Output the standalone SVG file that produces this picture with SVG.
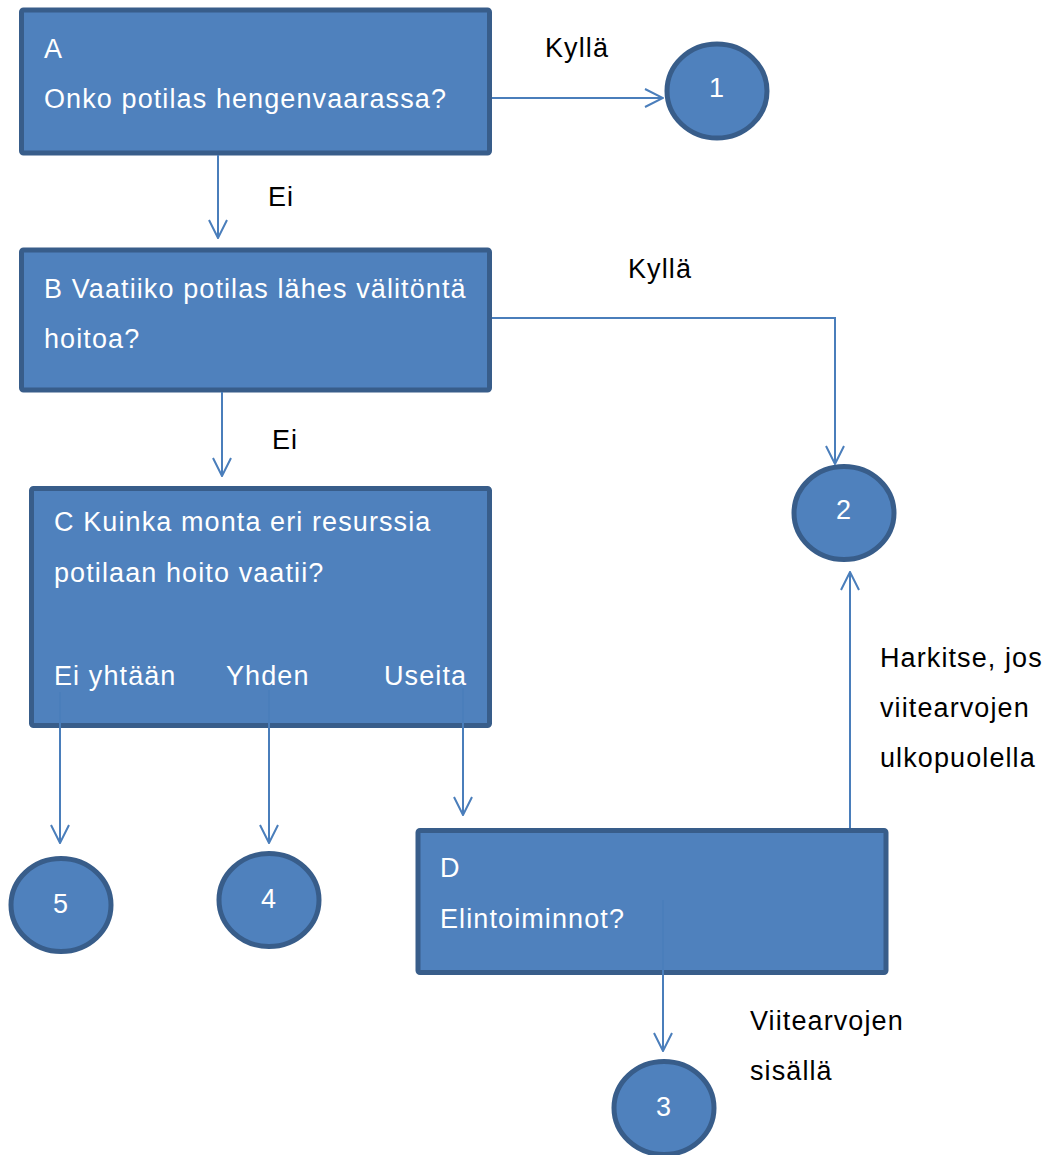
<svg xmlns="http://www.w3.org/2000/svg" width="1046" height="1155" viewBox="0 0 1046 1155">
<style>
.box{fill:#4F81BD;stroke:#385D8A;stroke-width:5;}
.wt{fill:#FFFFFF;font-family:"Liberation Sans",Arial,sans-serif;font-size:27px;letter-spacing:1.1px;}
.bt{fill:#000000;font-family:"Liberation Sans",Arial,sans-serif;font-size:27px;letter-spacing:1.1px;}
.con{fill:none;stroke:#4A7EBB;stroke-width:2;}
</style>
<defs>
<marker id="arr" viewBox="0 0 20 20" refX="19" refY="10" markerWidth="20" markerHeight="20" markerUnits="userSpaceOnUse" orient="auto">
<path d="M1,1 L19,10 L1,19" fill="none" stroke="#4A7EBB" stroke-width="2"/>
</marker>
</defs>
<rect width="1046" height="1155" fill="#FFFFFF"/>
<g id="nodeA">
<rect class="box" x="21.5" y="10" width="468" height="143" rx="2"/>
<text class="wt" x="44" y="58">A</text>
<text class="wt" x="44" y="108">Onko potilas hengenvaarassa?</text>
</g>
<g id="nodeB">
<rect class="box" x="21.5" y="250" width="468" height="140" rx="2"/>
<text class="wt" x="44" y="298">B Vaatiiko potilas lähes välitöntä</text>
<text class="wt" x="44" y="348">hoitoa?</text>
</g>
<g id="nodeC">
<rect class="box" x="31.5" y="488.5" width="458" height="237" rx="2"/>
<text class="wt" x="54" y="531">C Kuinka monta eri resurssia</text>
<text class="wt" x="54" y="582">potilaan hoito vaatii?</text>
<text class="wt" x="54" y="685">Ei yhtään</text>
<text class="wt" x="226" y="685">Yhden</text>
<text class="wt" x="384" y="685">Useita</text>
</g>
<g id="nodeD">
<rect class="box" x="418" y="830.5" width="468" height="142" rx="2"/>
<text class="wt" x="440" y="877">D</text>
<text class="wt" x="440" y="928">Elintoiminnot?</text>
</g>
<g id="node1">
<ellipse class="box" cx="717" cy="91" rx="50" ry="47"/>
<text class="wt" x="717" y="97" text-anchor="middle">1</text>
</g>
<g id="node2">
<ellipse class="box" cx="844" cy="513" rx="50" ry="46.5"/>
<text class="wt" x="844" y="519" text-anchor="middle">2</text>
</g>
<g id="node3">
<ellipse class="box" cx="664" cy="1108" rx="50" ry="46.5"/>
<text class="wt" x="664" y="1116" text-anchor="middle">3</text>
</g>
<g id="node4">
<ellipse class="box" cx="269" cy="900" rx="50" ry="46.5"/>
<text class="wt" x="269" y="908" text-anchor="middle">4</text>
</g>
<g id="node5">
<ellipse class="box" cx="61" cy="905" rx="50" ry="46.5"/>
<text class="wt" x="61" y="913" text-anchor="middle">5</text>
</g>
<g id="connectors">
<path class="con" d="M492,98 H663" marker-end="url(#arr)"/>
<path class="con" d="M218,155 V238" marker-end="url(#arr)"/>
<path class="con" d="M492,318 H835 V464" marker-end="url(#arr)"/>
<path class="con" d="M222,392 V476" marker-end="url(#arr)"/>
<path class="con" d="M60,692 V843" marker-end="url(#arr)"/>
<path class="con" d="M269,690 V843" marker-end="url(#arr)"/>
<path class="con" d="M463,688 V815" marker-end="url(#arr)"/>
<path class="con" d="M663,900 V1051" marker-end="url(#arr)"/>
<path class="con" d="M850,828 V572" marker-end="url(#arr)"/>
</g>
<g id="labels">
<text class="bt" x="545" y="57">Kyllä</text>
<text class="bt" x="268" y="206">Ei</text>
<text class="bt" x="628" y="278">Kyllä</text>
<text class="bt" x="272" y="449">Ei</text>
<text class="bt" x="880" y="667">Harkitse, jos</text>
<text class="bt" x="880" y="717">viitearvojen</text>
<text class="bt" x="880" y="767">ulkopuolella</text>
<text class="bt" x="750" y="1030">Viitearvojen</text>
<text class="bt" x="750" y="1080">sisällä</text>
</g>
</svg>
